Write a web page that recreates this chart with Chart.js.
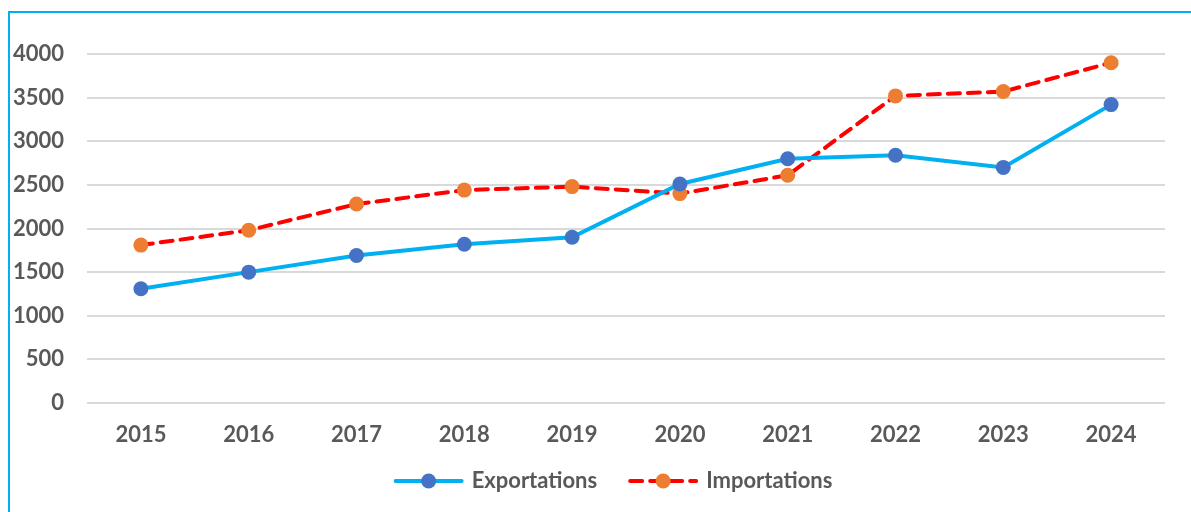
<!DOCTYPE html>
<html>
<head>
<meta charset="utf-8">
<script src="https://cdn.jsdelivr.net/npm/chart.js@4.4.1/dist/chart.umd.min.js"></script>
<style>
    html, body { margin: 0; padding: 0; background: #fff; }
    #wrap { position: relative; width: 1191px; height: 512px; overflow: hidden; }
    #frame { position: absolute; left: 8px; top: 11px; width: 1300px; height: 600px;
             border-left: 2px solid #00b0f0; border-top: 2px solid #00b0f0; }
    #chart { position: absolute; left: 0; top: 0; }
</style>
</head>
<body>
<div id="wrap">
    <div id="frame"></div>
    <canvas id="chart" width="1191" height="512"></canvas>
</div>
<script>
// Trade chart data
const years = ['2015', '2016', '2017', '2018', '2019', '2020', '2021', '2022', '2023', '2024'];
const exportations = [1310, 1500, 1690, 1820, 1900, 2510, 2800, 2840, 2700, 3420];
const importations = [1810, 1980, 2280, 2440, 2480, 2400, 2610, 3520, 3570, 3900];
const seriesNames = ['Exportations', 'Importations'];

const TEXT = '#595959';
const FONT = { family: 'Lato', size: 22, weight: 'bold' };

// Legend drawn as line + marker, like the office chart
const lineLegend = {
    id: 'lineLegend',
    afterDraw(chart) {
        const ctx = chart.ctx;
        const y = 481;
        const lineLen = 70, gapText = 8, gapItem = 31;
        ctx.save();
        ctx.font = `${FONT.weight} ${FONT.size}px ${FONT.family}`;
        const items = chart.data.datasets.map(ds => ({ ds, w: ctx.measureText(ds.label).width }));
        let total = items.reduce((s, it) => s + lineLen + gapText + it.w, 0) + gapItem * (items.length - 1);
        let x = 613 - total / 2;
        items.forEach(({ ds, w }) => {
            ctx.strokeStyle = ds.borderColor;
            ctx.lineWidth = ds.borderWidth;
            ctx.lineCap = 'round';
            ctx.setLineDash(ds.borderDash || []);
            ctx.beginPath();
            ctx.moveTo(x + 2, y);
            ctx.lineTo(x + lineLen - 2, y);
            ctx.stroke();
            ctx.setLineDash([]);
            ctx.fillStyle = ds.pointBackgroundColor;
            ctx.beginPath();
            ctx.arc(x + lineLen / 2, y, ds.pointRadius, 0, Math.PI * 2);
            ctx.fill();
            ctx.fillStyle = TEXT;
            ctx.textAlign = 'left';
            ctx.textBaseline = 'middle';
            ctx.fillText(ds.label, x + lineLen + gapText, y);
            x += lineLen + gapText + w + gapItem;
        });
        ctx.restore();
    }
};

new Chart(document.getElementById('chart'), {
    type: 'line',
    data: {
        labels: years,
        datasets: [
            {
                label: seriesNames[0],
                data: exportations,
                borderColor: '#00b0f0',
                borderWidth: 4,
                pointBackgroundColor: '#4472c4',
                pointBorderColor: '#4472c4',
                pointBorderWidth: 0,
                pointRadius: 7.5,
                tension: 0
            },
            {
                label: seriesNames[1],
                data: importations,
                borderColor: '#ff0000',
                borderWidth: 4,
                borderDash: [12, 8],
                borderCapStyle: 'round',
                pointBackgroundColor: '#ed7d31',
                pointBorderColor: '#ed7d31',
                pointBorderWidth: 0,
                pointRadius: 7.5,
                tension: 0
            }
        ]
    },
    options: {
        responsive: false,
        animation: false,
        layout: { padding: { top: 54, right: 26, left: 0, bottom: 0 } },
        plugins: {
            legend: { display: false },
            tooltip: { enabled: false }
        },
        scales: {
            x: {
                offset: true,
                grid: { display: false, drawTicks: false },
                border: { display: false },
                ticks: { color: TEXT, font: FONT, padding: 19, maxRotation: 0 },
                afterFit(axis) { axis.height = 109; }
            },
            y: {
                min: 0,
                max: 4000,
                grid: { color: '#d9d9d9', lineWidth: 2, drawTicks: false },
                border: { display: false },
                ticks: {
                    stepSize: 500, color: TEXT, font: FONT, padding: 23,
                    callback: value => String(value)
                },
                afterFit(axis) { axis.width = 87; }
            }
        }
    },
    plugins: [lineLegend]
});
</script>
</body>
</html>
